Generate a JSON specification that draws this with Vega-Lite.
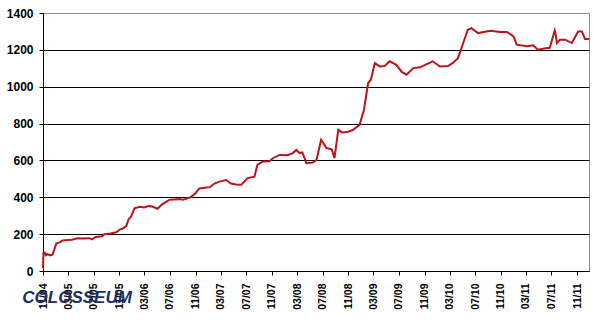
{
  "$schema": "https://vega.github.io/schema/vega-lite/v6.json",
  "width": 546,
  "height": 258,
  "autosize": "none",
  "padding": {"left": 43, "top": 13, "right": 5, "bottom": 52},
  "background": "white",
  "title": {
    "text": "COLOSSEUM",
    "orient": "bottom",
    "anchor": "start",
    "font": "Liberation Sans",
    "fontStyle": "italic",
    "fontWeight": "bold",
    "fontSize": 17,
    "color": "#1b2f63",
    "offset": -19,
    "dx": 16
  },
  "config": {
    "view": {"stroke": "#8c8c8c", "strokeWidth": 1},
    "axis": {
      "labelFont": "Liberation Sans",
      "labelFontWeight": "bold",
      "labelColor": "black",
      "domainColor": "black",
      "tickColor": "black",
      "domainWidth": 1,
      "tickWidth": 1,
      "tickSize": 4,
      "title": null
    }
  },
  "data": {
    "values": [
      {"date": "2004-11-01", "value": 15},
      {"date": "2004-11-03", "value": 98},
      {"date": "2004-11-09", "value": 100},
      {"date": "2004-11-15", "value": 85},
      {"date": "2004-11-22", "value": 92},
      {"date": "2004-12-05", "value": 85},
      {"date": "2004-12-17", "value": 90},
      {"date": "2005-01-04", "value": 150},
      {"date": "2005-01-20", "value": 155},
      {"date": "2005-02-03", "value": 165},
      {"date": "2005-03-01", "value": 168},
      {"date": "2005-03-20", "value": 170},
      {"date": "2005-04-15", "value": 178},
      {"date": "2005-05-10", "value": 177},
      {"date": "2005-06-11", "value": 178},
      {"date": "2005-06-24", "value": 172},
      {"date": "2005-07-10", "value": 185},
      {"date": "2005-08-12", "value": 188},
      {"date": "2005-08-21", "value": 200},
      {"date": "2005-09-20", "value": 203},
      {"date": "2005-10-18", "value": 210},
      {"date": "2005-11-03", "value": 225},
      {"date": "2005-11-20", "value": 232},
      {"date": "2005-12-05", "value": 245},
      {"date": "2005-12-15", "value": 280},
      {"date": "2005-12-27", "value": 295},
      {"date": "2006-01-13", "value": 340},
      {"date": "2006-02-07", "value": 348},
      {"date": "2006-03-01", "value": 345},
      {"date": "2006-03-20", "value": 352},
      {"date": "2006-04-09", "value": 350},
      {"date": "2006-05-03", "value": 338},
      {"date": "2006-05-25", "value": 362},
      {"date": "2006-06-28", "value": 386},
      {"date": "2006-07-20", "value": 388},
      {"date": "2006-08-16", "value": 390},
      {"date": "2006-09-01", "value": 387},
      {"date": "2006-10-04", "value": 398},
      {"date": "2006-10-26", "value": 415},
      {"date": "2006-11-20", "value": 448},
      {"date": "2006-12-15", "value": 452},
      {"date": "2007-01-08", "value": 455},
      {"date": "2007-02-02", "value": 476},
      {"date": "2007-02-24", "value": 485},
      {"date": "2007-03-27", "value": 494},
      {"date": "2007-04-20", "value": 475},
      {"date": "2007-05-14", "value": 470},
      {"date": "2007-06-08", "value": 468},
      {"date": "2007-07-08", "value": 504},
      {"date": "2007-08-10", "value": 512},
      {"date": "2007-08-24", "value": 576},
      {"date": "2007-09-18", "value": 594},
      {"date": "2007-10-21", "value": 596},
      {"date": "2007-11-06", "value": 612},
      {"date": "2007-12-09", "value": 630},
      {"date": "2008-01-15", "value": 628},
      {"date": "2008-02-10", "value": 640},
      {"date": "2008-02-26", "value": 657},
      {"date": "2008-03-13", "value": 640},
      {"date": "2008-03-26", "value": 643},
      {"date": "2008-04-15", "value": 585},
      {"date": "2008-05-15", "value": 588},
      {"date": "2008-06-02", "value": 603},
      {"date": "2008-06-24", "value": 712},
      {"date": "2008-07-20", "value": 667},
      {"date": "2008-08-14", "value": 660},
      {"date": "2008-08-27", "value": 612},
      {"date": "2008-09-14", "value": 766},
      {"date": "2008-10-02", "value": 752},
      {"date": "2008-11-01", "value": 755},
      {"date": "2008-11-22", "value": 765},
      {"date": "2008-12-25", "value": 793},
      {"date": "2009-01-15", "value": 875},
      {"date": "2009-02-04", "value": 1020},
      {"date": "2009-02-17", "value": 1038},
      {"date": "2009-03-08", "value": 1128},
      {"date": "2009-04-01", "value": 1110},
      {"date": "2009-04-24", "value": 1112},
      {"date": "2009-05-18", "value": 1138},
      {"date": "2009-06-19", "value": 1119},
      {"date": "2009-07-15", "value": 1080},
      {"date": "2009-08-07", "value": 1065},
      {"date": "2009-09-08", "value": 1101},
      {"date": "2009-10-10", "value": 1105},
      {"date": "2009-11-04", "value": 1119},
      {"date": "2009-12-10", "value": 1138},
      {"date": "2010-01-14", "value": 1110},
      {"date": "2010-02-21", "value": 1112},
      {"date": "2010-03-15", "value": 1128},
      {"date": "2010-04-10", "value": 1155},
      {"date": "2010-05-05", "value": 1237},
      {"date": "2010-05-27", "value": 1309},
      {"date": "2010-06-13", "value": 1318},
      {"date": "2010-07-15", "value": 1291},
      {"date": "2010-08-24", "value": 1300},
      {"date": "2010-09-15", "value": 1304},
      {"date": "2010-10-27", "value": 1297},
      {"date": "2010-12-01", "value": 1297},
      {"date": "2011-01-01", "value": 1273},
      {"date": "2011-01-16", "value": 1228},
      {"date": "2011-03-06", "value": 1219},
      {"date": "2011-04-04", "value": 1225},
      {"date": "2011-04-28", "value": 1201},
      {"date": "2011-06-10", "value": 1210},
      {"date": "2011-06-23", "value": 1210},
      {"date": "2011-07-17", "value": 1305},
      {"date": "2011-07-22", "value": 1282},
      {"date": "2011-07-27", "value": 1237},
      {"date": "2011-08-11", "value": 1255},
      {"date": "2011-09-05", "value": 1255},
      {"date": "2011-10-07", "value": 1237},
      {"date": "2011-11-06", "value": 1300},
      {"date": "2011-11-24", "value": 1300},
      {"date": "2011-12-09", "value": 1259},
      {"date": "2011-12-28", "value": 1259}
    ]
  },
  "mark": {"type": "line", "color": "#bb141c", "strokeWidth": 2},
  "encoding": {
    "x": {
      "field": "date",
      "type": "temporal",
      "scale": {
        "type": "utc",
        "domain": [
          {"year": 2004, "month": 11, "date": 1, "utc": true},
          {"year": 2011, "month": 12, "date": 28, "utc": true}
        ]
      },
      "axis": {
        "values": [
          {"year": 2004, "month": 11, "date": 1, "utc": true},
          {"year": 2005, "month": 3, "date": 1, "utc": true},
          {"year": 2005, "month": 7, "date": 1, "utc": true},
          {"year": 2005, "month": 11, "date": 1, "utc": true},
          {"year": 2006, "month": 3, "date": 1, "utc": true},
          {"year": 2006, "month": 7, "date": 1, "utc": true},
          {"year": 2006, "month": 11, "date": 1, "utc": true},
          {"year": 2007, "month": 3, "date": 1, "utc": true},
          {"year": 2007, "month": 7, "date": 1, "utc": true},
          {"year": 2007, "month": 11, "date": 1, "utc": true},
          {"year": 2008, "month": 3, "date": 1, "utc": true},
          {"year": 2008, "month": 7, "date": 1, "utc": true},
          {"year": 2008, "month": 11, "date": 1, "utc": true},
          {"year": 2009, "month": 3, "date": 1, "utc": true},
          {"year": 2009, "month": 7, "date": 1, "utc": true},
          {"year": 2009, "month": 11, "date": 1, "utc": true},
          {"year": 2010, "month": 3, "date": 1, "utc": true},
          {"year": 2010, "month": 7, "date": 1, "utc": true},
          {"year": 2010, "month": 11, "date": 1, "utc": true},
          {"year": 2011, "month": 3, "date": 1, "utc": true},
          {"year": 2011, "month": 7, "date": 1, "utc": true},
          {"year": 2011, "month": 11, "date": 1, "utc": true}
        ],
        "labelExpr": "utcFormat(datum.value, '%m/%y')",
        "labelAngle": -90,
        "labelFontSize": 10.5,
        "labelPadding": 8,
        "grid": false,
        "labelOverlap": false
      }
    },
    "y": {
      "field": "value",
      "type": "quantitative",
      "scale": {"domain": [0, 1400], "nice": false, "zero": true},
      "axis": {
        "values": [0, 200, 400, 600, 800, 1000, 1200, 1400],
        "format": "d",
        "labelFontSize": 12,
        "labelPadding": 6,
        "grid": true,
        "gridColor": {"condition": {"test": "datum.value == 1400", "value": "#8c8c8c"}, "value": "black"},
        "gridOpacity": 1,
        "gridWidth": 1
      }
    }
  }
}
